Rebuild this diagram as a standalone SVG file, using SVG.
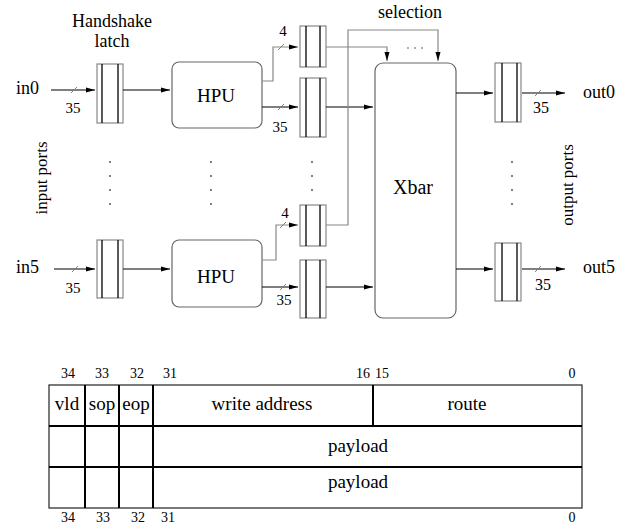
<svg xmlns="http://www.w3.org/2000/svg" width="624" height="527" viewBox="0 0 624 527">
<style>
text{font-family:"Liberation Serif","Times New Roman",serif;fill:#000}
.t18{font-size:18px}
.t15{font-size:15px}
.t14{font-size:14px}
.mid{text-anchor:middle}
.latch-o{fill:#fff;stroke:#888;stroke-width:1.2}
.latch-i{stroke:#000;stroke-width:1.3}
.unit{fill:#fff;stroke:#666;stroke-width:1.2}
.wire{fill:none;stroke:#000;stroke-width:1.2}
.gwire{fill:none;stroke:#888;stroke-width:1.2}
.slash{stroke:#777;stroke-width:0.9}
.cell{fill:none;stroke:#000;stroke-width:2}
.dot{fill:#444}
</style>
<defs>
<marker id="ah" markerUnits="userSpaceOnUse" markerWidth="10" markerHeight="8" refX="9" refY="4" orient="auto">
<path d="M0,1.5 L9,4 L0,6.5 Z" fill="#000"/>
</marker>
</defs>

<g id="labels">
<text class="t18 mid" x="112" y="27">Handshake</text>
<text class="t18 mid" x="112" y="47">latch</text>
<text class="t18 mid" x="410" y="18">selection</text>
<text class="t18" x="16" y="94">in0</text>
<text class="t18" x="16" y="273">in5</text>
<text class="t18" x="583" y="98">out0</text>
<text class="t18" x="583" y="273">out5</text>
<text class="t15 mid" x="73" y="113">35</text>
<text class="t15 mid" x="73" y="293">35</text>
<text class="t15 mid" x="283" y="36">4</text>
<text class="t15 mid" x="280" y="132">35</text>
<text class="t15 mid" x="285" y="218">4</text>
<text class="t15 mid" x="284" y="305">35</text>
<text class="t18 mid" x="541" y="113" style="font-size:16px">35</text>
<text class="t18 mid" x="543" y="290" style="font-size:16px">35</text>
<text class="t18 mid" transform="translate(47,178) rotate(-90)" style="font-size:17px">input ports</text>
<text class="t18 mid" transform="translate(573,185) rotate(-90)" style="font-size:17px">output ports</text>
</g>

<g id="latch-in0">
<rect class="latch-o" x="97" y="64" width="26" height="59"/>
<line class="latch-i" x1="102" y1="64" x2="102" y2="123"/>
<line class="latch-i" x1="118" y1="64" x2="118" y2="123"/>
</g>
<g id="latch-in5">
<rect class="latch-o" x="97" y="240" width="26" height="58"/>
<line class="latch-i" x1="102" y1="240" x2="102" y2="298"/>
<line class="latch-i" x1="118" y1="240" x2="118" y2="298"/>
</g>

<g id="hpu0">
<rect class="unit" x="172" y="62" width="90" height="66" rx="7"/>
<text class="t18 mid" x="216" y="102" style="font-size:19px">HPU</text>
</g>
<g id="hpu5">
<rect class="unit" x="172" y="240" width="90" height="67" rx="7"/>
<text class="t18 mid" x="216" y="283" style="font-size:19px">HPU</text>
</g>

<g id="sel-latch0">
<rect class="latch-o" x="300" y="26" width="26" height="41"/>
<line class="latch-i" x1="306" y1="26" x2="306" y2="67"/>
<line class="latch-i" x1="320" y1="26" x2="320" y2="67"/>
</g>
<g id="data-latch0">
<rect class="latch-o" x="300" y="78" width="26" height="59"/>
<line class="latch-i" x1="306" y1="78" x2="306" y2="137"/>
<line class="latch-i" x1="320" y1="78" x2="320" y2="137"/>
</g>
<g id="sel-latch5">
<rect class="latch-o" x="300" y="205" width="26" height="41"/>
<line class="latch-i" x1="306" y1="205" x2="306" y2="246"/>
<line class="latch-i" x1="320" y1="205" x2="320" y2="246"/>
</g>
<g id="data-latch5">
<rect class="latch-o" x="300" y="260" width="26" height="58"/>
<line class="latch-i" x1="306" y1="260" x2="306" y2="318"/>
<line class="latch-i" x1="320" y1="260" x2="320" y2="318"/>
</g>

<g id="xbar">
<rect class="unit" x="375" y="63" width="81" height="255" rx="8"/>
<text class="t18 mid" x="413" y="194" style="font-size:20px">Xbar</text>
</g>

<g id="latch-out0">
<rect class="latch-o" x="495" y="63" width="26" height="59"/>
<line class="latch-i" x1="502" y1="63" x2="502" y2="122"/>
<line class="latch-i" x1="517" y1="63" x2="517" y2="122"/>
</g>
<g id="latch-out5">
<rect class="latch-o" x="495" y="243" width="26" height="58"/>
<line class="latch-i" x1="502" y1="243" x2="502" y2="301"/>
<line class="latch-i" x1="517" y1="243" x2="517" y2="301"/>
</g>

<g id="connectors">
<line class="wire" x1="51" y1="90" x2="95" y2="90" marker-end="url(#ah)"/>
<line class="wire" x1="123" y1="90" x2="170" y2="90" marker-end="url(#ah)"/>
<polyline class="gwire" points="262,81 273,81 273,47 298,47" marker-end="url(#ah)"/>
<line class="wire" x1="262" y1="107" x2="298" y2="107" marker-end="url(#ah)"/>
<polyline class="gwire" points="326,47 387,47 387,61" marker-end="url(#ah)"/>
<line class="wire" x1="326" y1="107" x2="373" y2="107" marker-end="url(#ah)"/>
<polyline class="gwire" points="326,225 348,225 348,30 438,30 438,61" marker-end="url(#ah)"/>
<line class="wire" x1="456" y1="93" x2="493" y2="93" marker-end="url(#ah)"/>
<line class="wire" x1="522" y1="93" x2="565" y2="93" marker-end="url(#ah)"/>
<line class="wire" x1="54" y1="269" x2="95" y2="269" marker-end="url(#ah)"/>
<line class="wire" x1="123" y1="269" x2="170" y2="269" marker-end="url(#ah)"/>
<polyline class="gwire" points="262,260 276,260 276,225 298,225" marker-end="url(#ah)"/>
<line class="wire" x1="262" y1="287" x2="298" y2="287" marker-end="url(#ah)"/>
<line class="wire" x1="326" y1="287" x2="373" y2="287" marker-end="url(#ah)"/>
<line class="wire" x1="456" y1="269" x2="493" y2="269" marker-end="url(#ah)"/>
<line class="wire" x1="522" y1="269" x2="565" y2="269" marker-end="url(#ah)"/>
<g id="bus-slashes">
<line class="slash" x1="71" y1="93" x2="77" y2="87"/>
<line class="slash" x1="72" y1="272" x2="78" y2="266"/>
<line class="slash" x1="278" y1="50" x2="284" y2="44"/>
<line class="slash" x1="278" y1="110" x2="284" y2="104"/>
<line class="slash" x1="280" y1="228" x2="286" y2="222"/>
<line class="slash" x1="280" y1="290" x2="286" y2="284"/>
<line class="slash" x1="535" y1="96" x2="541" y2="90"/>
<line class="slash" x1="535" y1="272" x2="541" y2="266"/>
</g>
</g>

<g id="ellipses">
<circle class="dot" cx="110" cy="162" r="0.9"/><circle class="dot" cx="110" cy="176" r="0.9"/><circle class="dot" cx="110" cy="190" r="0.9"/><circle class="dot" cx="110" cy="204" r="0.9"/>
<circle class="dot" cx="211" cy="162" r="0.9"/><circle class="dot" cx="211" cy="176" r="0.9"/><circle class="dot" cx="211" cy="190" r="0.9"/><circle class="dot" cx="211" cy="204" r="0.9"/>
<circle class="dot" cx="312" cy="162" r="0.9"/><circle class="dot" cx="312" cy="176" r="0.9"/><circle class="dot" cx="312" cy="190" r="0.9"/>
<circle class="dot" cx="512" cy="162" r="0.9"/><circle class="dot" cx="512" cy="176" r="0.9"/><circle class="dot" cx="512" cy="190" r="0.9"/><circle class="dot" cx="512" cy="204" r="0.9"/>
<circle class="dot" cx="408" cy="48" r="0.8"/><circle class="dot" cx="415" cy="48" r="0.8"/><circle class="dot" cx="422" cy="48" r="0.8"/>
</g>

<g id="packet-format">
<rect x="49" y="385" width="533" height="123" fill="#fff" stroke="#222" stroke-width="1.2"/>
<line class="cell" x1="49" y1="426" x2="582" y2="426"/>
<line class="cell" x1="49" y1="467" x2="582" y2="467"/>
<line class="cell" x1="85" y1="385" x2="85" y2="508"/>
<line class="cell" x1="119" y1="385" x2="119" y2="508"/>
<line class="cell" x1="153" y1="385" x2="153" y2="508"/>
<line class="cell" x1="373" y1="385" x2="373" y2="426"/>
<text class="t18 mid" x="67" y="410" style="font-size:19px">vld</text>
<text class="t18 mid" x="102" y="410" style="font-size:19px">sop</text>
<text class="t18 mid" x="136" y="410" style="font-size:19px">eop</text>
<text class="t18 mid" x="262" y="410" style="font-size:19px">write address</text>
<text class="t18 mid" x="467" y="410" style="font-size:19px">route</text>
<text class="t18 mid" x="358" y="452" style="font-size:19px">payload</text>
<text class="t18 mid" x="358" y="488" style="font-size:19px">payload</text>
<text class="t14 mid" x="68" y="378">34</text>
<text class="t14 mid" x="102" y="378">33</text>
<text class="t14 mid" x="137" y="378">32</text>
<text class="t14 mid" x="170" y="378">31</text>
<text class="t14 mid" x="363" y="378">16</text>
<text class="t14 mid" x="382" y="378">15</text>
<text class="t14 mid" x="572" y="378">0</text>
<text class="t14 mid" x="68" y="522">34</text>
<text class="t14 mid" x="103" y="522">33</text>
<text class="t14 mid" x="138" y="522">32</text>
<text class="t14 mid" x="168" y="522">31</text>
<text class="t14 mid" x="572" y="522">0</text>
</g>
</svg>
